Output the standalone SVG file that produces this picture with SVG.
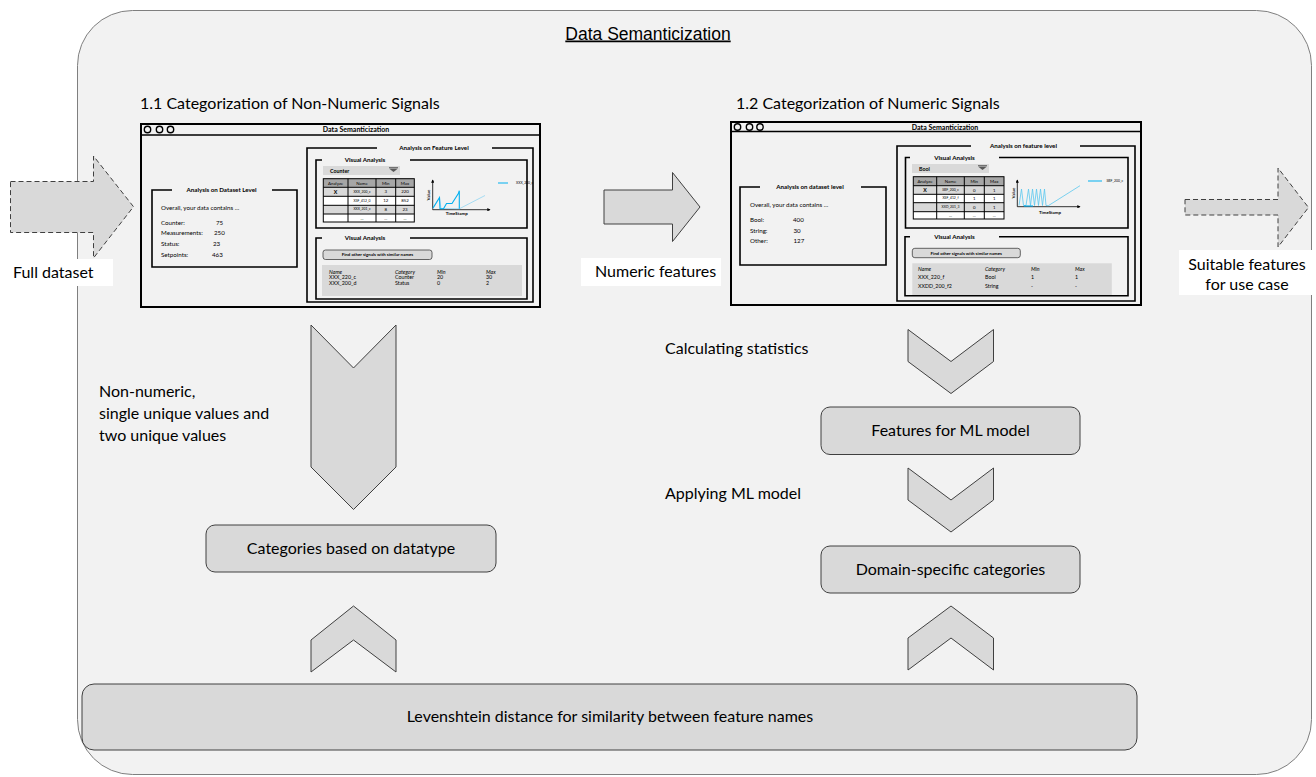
<svg xmlns="http://www.w3.org/2000/svg" width="1316" height="777" viewBox="0 0 1316 777">
  <style>
    .lbl { font-family: Lato, "Open Sans", sans-serif; font-size: 16px; fill: #000; }
    .ctr { text-anchor: middle; }
    .shape { fill: #d9d9d9; stroke: #404040; stroke-width: 1; }
    .win { fill: #f2f2f2; stroke: #000; stroke-width: 2; }
    .fs { fill: none; stroke: #000; stroke-width: 1.6; }
    .ui { font-family: Lato, "Open Sans", sans-serif; fill: #000; }
    .uib { font-family: Lato, "Open Sans", sans-serif; font-weight: bold; fill: #000; }
    .t7 { font-size: 7px; }
    .t6 { font-size: 6.2px; }
    .t5 { font-size: 5.3px; }
    .t4 { font-size: 4.4px; }
    .t3 { font-size: 3.4px; }
    .cell { stroke: #000; stroke-width: 1; }
    .hdr { fill: #a6a6a6; }
    .alt { fill: #d9d9d9; }
    .wht { fill: #ffffff; }
    .axis { stroke: #000; stroke-width: 0.8; fill: none; }
    .dash { fill: #d9d9d9; stroke: #404040; stroke-width: 1; stroke-dasharray: 5 3; }
  </style>
  <defs>
    <marker id="ax" viewBox="0 0 6 6" refX="5" refY="3" markerWidth="4" markerHeight="4" orient="auto">
      <path d="M0,0 L6,3 L0,6 z" fill="#000"/>
    </marker>
  </defs>

  <!-- outer container -->
  <g id="container">
    <rect x="77.5" y="10.5" width="1234" height="764" rx="55" ry="55" fill="#f2f2f2" stroke="#7f7f7f" stroke-width="1"/>
    <text x="648" y="39.5" text-anchor="middle" font-family="Liberation Sans, Arial, sans-serif" font-size="17.5" text-decoration="underline">Data Semanticization</text>
  </g>

  <!-- section headings -->
  <g id="heading-11"><text class="lbl" x="140" y="108.5">1.1 Categorization of Non-Numeric Signals</text></g>
  <g id="heading-12"><text class="lbl" x="736" y="108.5">1.2 Categorization of Numeric Signals</text></g>

  <!-- connectors: block arrows and chevrons -->
  <g id="connectors">
    <polygon class="dash" points="10.5,181.5 93.5,181.5 93.5,156 133.5,206.7 93.5,258 93.5,232.5 10.5,232.5"/>
    <polygon class="shape" points="604,190 672.5,190 672.5,172.5 700,207 672.5,241.5 672.5,224 604,224"/>
    <polygon class="dash" points="1185,199.5 1278,199.5 1278,168 1308.5,207.5 1278,247 1278,215 1185,215"/>
    <polygon class="shape" points="311,325 353.5,368 396,325 396,467 353.5,509.5 311,467"/>
    <polygon class="shape" points="908,329.5 951,361.5 993.5,329.5 993.5,361.5 951,393.5 908,361.5"/>
    <polygon class="shape" points="908,468 951,500 993.5,468 993.5,500 951,532 908,500"/>
    <polygon class="shape" points="353.5,606 396,640 396,672 353.5,640 311,672 311,640"/>
    <polygon class="shape" points="951,606 993.5,638 993.5,670 951,638 908,670 908,638"/>
  </g>

  <!-- arrow labels -->
  <g id="label-full-dataset">
    <rect x="10" y="259" width="103" height="27" fill="#fff"/>
    <text class="lbl" x="13" y="278" font-size="17">Full dataset</text>
  </g>
  <g id="label-numeric-features">
    <rect x="581" y="258" width="140" height="28" fill="#fff"/>
    <text class="lbl" x="595" y="277">Numeric features</text>
  </g>
  <g id="label-suitable">
    <rect x="1179" y="250" width="137" height="45" fill="#fff"/>
    <text class="lbl ctr" x="1247" y="270">Suitable features</text>
    <text class="lbl ctr" x="1247" y="290">for use case</text>
  </g>
  <g id="label-non-numeric">
    <text class="lbl" x="99" y="397">Non-numeric,</text>
    <text class="lbl" x="99" y="419">single unique values and</text>
    <text class="lbl" x="99" y="441">two unique values</text>
  </g>
  <g id="label-calc"><text class="lbl" x="665" y="354">Calculating statistics</text></g>
  <g id="label-apply"><text class="lbl" x="665" y="499">Applying ML model</text></g>

  <!-- process boxes -->
  <g id="node-datatype">
    <rect class="shape" x="206" y="525" width="290" height="47" rx="9"/>
    <text class="lbl ctr" x="351" y="554">Categories based on datatype</text>
  </g>
  <g id="node-ml-features">
    <rect class="shape" x="821" y="407" width="259" height="47.5" rx="9"/>
    <text class="lbl ctr" x="950.5" y="436">Features for ML model</text>
  </g>
  <g id="node-domain">
    <rect class="shape" x="821" y="546" width="259" height="47" rx="9"/>
    <text class="lbl ctr" x="950.5" y="575">Domain-specific categories</text>
  </g>
  <g id="node-levenshtein">
    <rect class="shape" x="82" y="684" width="1055" height="66" rx="12"/>
    <text class="lbl ctr" x="610" y="722">Levenshtein distance for similarity between feature names</text>
  </g>

  <!-- mockup window: non-numeric signals -->
  <g id="window-non-numeric">
    <rect class="win" x="141" y="124" width="399" height="183"/>
    <line x1="141" y1="135" x2="540" y2="135" stroke="#000" stroke-width="1.5"/>
    <circle cx="147.5" cy="129.5" r="3.2" fill="none" stroke="#000" stroke-width="1.4"/>
    <circle cx="159.5" cy="129.5" r="3.2" fill="none" stroke="#000" stroke-width="1.4"/>
    <circle cx="170.5" cy="129.5" r="3.2" fill="none" stroke="#000" stroke-width="1.4"/>
    <text class="uib t7 ctr" x="356" y="132.3">Data Semanticization</text>

    <!-- dataset level panel -->
    <path class="fs" d="M172,190 H152 V267 H297 V190 H272"/>
    <text class="uib t6 ctr" x="221.5" y="192.3">Analysis on Dataset Level</text>
    <text class="ui t6" x="161" y="209.5">Overall, your data contains ...</text>
    <text class="ui t6" x="161" y="224.5">Counter:</text><text class="ui t6" x="216" y="224.5">75</text>
    <text class="ui t6" x="161" y="235.3">Measurements:</text><text class="ui t6" x="214" y="235.3">250</text>
    <text class="ui t6" x="161" y="246.3">Status:</text><text class="ui t6" x="213" y="246.3">23</text>
    <text class="ui t6" x="161" y="257">Setpoints:</text><text class="ui t6" x="212" y="257">463</text>

    <!-- feature level panel -->
    <path class="fs" d="M377,148 H307 V302 H533 V148 H492"/>
    <text class="uib t6 ctr" x="434" y="150.3">Analysis on Feature Level</text>

    <path class="fs" d="M322,160 H316 V228 H527 V160 H410"/>
    <text class="uib t6 ctr" x="365" y="162.3">Visual Analysis</text>
    <rect x="323" y="166" width="77" height="9" fill="#d9d9d9"/>
    <text class="uib t5" x="330" y="172.6">Counter</text>
    <line x1="389" y1="167.5" x2="398" y2="167.5" stroke="#595959" stroke-width="0.8"/>
    <polygon points="389,168.5 398,168.5 393.5,172" fill="#595959"/>

    <rect class="hdr" x="323.3" y="178.7" width="91" height="8.6"/>
    <rect class="alt" x="323.3" y="187.3" width="91" height="9"/>
    <rect class="wht" x="323.3" y="196.3" width="91" height="9"/>
    <rect class="alt" x="323.3" y="205.3" width="91" height="8.7"/>
    <rect class="wht" x="323.3" y="214" width="91" height="8"/>
    <g class="cell">
      <rect x="323.3" y="178.7" width="91" height="43.3" fill="none"/>
      <line x1="348" y1="178.7" x2="348" y2="222"/>
      <line x1="376" y1="178.7" x2="376" y2="222"/>
      <line x1="395.7" y1="178.7" x2="395.7" y2="222"/>
      <line x1="323.3" y1="187.3" x2="414.3" y2="187.3"/>
      <line x1="323.3" y1="196.3" x2="414.3" y2="196.3"/>
      <line x1="323.3" y1="205.3" x2="414.3" y2="205.3"/>
      <line x1="323.3" y1="214" x2="414.3" y2="214"/>
    </g>
    <text class="ui t4 ctr" x="335.6" y="184.6">Analyze</text>
    <text class="ui t4 ctr" x="362" y="184.6">Name</text>
    <text class="ui t4 ctr" x="385.8" y="184.6">Min</text>
    <text class="ui t4 ctr" x="405" y="184.6">Max</text>
    <text class="uib t5 ctr" x="335.6" y="193.6">X</text>
    <text class="ui t3 ctr" x="362" y="192.6">XXX_200_c</text>
    <text class="ui t4 ctr" x="385.8" y="193.3">3</text>
    <text class="ui t4 ctr" x="405" y="193.3">220</text>
    <text class="ui t3 ctr" x="362" y="201.6">XSF_412_0</text>
    <text class="ui t4 ctr" x="385.8" y="202.3">12</text>
    <text class="ui t4 ctr" x="405" y="202.3">852</text>
    <text class="ui t3 ctr" x="362" y="210.3">XXX_201_c</text>
    <text class="ui t4 ctr" x="385.8" y="211">8</text>
    <text class="ui t4 ctr" x="405" y="211">23</text>
    <text class="ui t4 ctr" x="362" y="219.5">...</text>
    <text class="ui t4 ctr" x="385.8" y="219.5">...</text>
    <text class="ui t4 ctr" x="405" y="219.5">...</text>

    <!-- signal chart -->
    <path class="axis" d="M432.7,209.7 V180" marker-end="url(#ax)"/>
    <path class="axis" d="M432.7,209.7 H490" marker-end="url(#ax)"/>
    <text class="uib t4 ctr" transform="translate(430,195) rotate(-90)">Value</text>
    <text class="uib t4 ctr" x="456.7" y="214.8">TimeStamp</text>
    <path d="M433,208.5 L439.5,198 L441,208.5 L459.5,208.7 L485,195.5" fill="none" stroke="#9dd9f3" stroke-width="0.9"/>
    <path d="M433,208 L439.5,197.5 L440,208.7 L443.5,208.7 L446.5,203.5 L452,203.5 L458.5,193.2 L459.3,190.7 L459.3,208.7" fill="none" stroke="#00b0f0" stroke-width="1.1"/>
    <line x1="498" y1="183" x2="508" y2="183" stroke="#00b0f0" stroke-width="1"/>
    <text class="ui t3" x="516" y="184.2">XXX_200_c</text>

    <path class="fs" d="M322,238 H316 V299 H527 V238 H410"/>
    <text class="uib t6 ctr" x="365" y="240.3">Visual Analysis</text>
    <rect x="323" y="250" width="109" height="9.5" rx="2.5" fill="#d9d9d9" stroke="#404040" stroke-width="0.8"/>
    <text class="uib t4 ctr" x="377.5" y="256.4">Find other signals with similar names</text>
    <rect x="322" y="265" width="200" height="31" fill="#d9d9d9"/>
    <g class="ui t5">
      <text x="329" y="273.5" font-style="italic">Name</text>
      <text x="395" y="273.5" font-style="italic">Category</text>
      <text x="437" y="273.5" font-style="italic">Min</text>
      <text x="486" y="273.5" font-style="italic">Max</text>
      <text x="329" y="279.3">XXX_220_c</text>
      <text x="395" y="279.3">Counter</text>
      <text x="437" y="279.3">20</text>
      <text x="486" y="279.3">30</text>
      <text x="329" y="285">XXX_200_d</text>
      <text x="395" y="285">Status</text>
      <text x="437" y="285">0</text>
      <text x="486" y="285">2</text>
    </g>
  </g>

  <!-- mockup window: numeric signals -->
  <g id="window-numeric">
    <rect class="win" x="731" y="122" width="410" height="183"/>
    <line x1="731" y1="131.5" x2="1141" y2="131.5" stroke="#000" stroke-width="1.5"/>
    <circle cx="737.5" cy="127" r="3.2" fill="none" stroke="#000" stroke-width="1.4"/>
    <circle cx="749.5" cy="127" r="3.2" fill="none" stroke="#000" stroke-width="1.4"/>
    <circle cx="760" cy="127" r="3.2" fill="none" stroke="#000" stroke-width="1.4"/>
    <text class="uib t7 ctr" x="945" y="129.6">Data Semanticization</text>

    <!-- dataset level panel -->
    <path class="fs" d="M760,187 H740 V265 H886 V187 H861"/>
    <text class="uib t6 ctr" x="810" y="189.3">Analysis on dataset level</text>
    <text class="ui t6" x="750" y="207.2">Overall, your data contains ...</text>
    <text class="ui t6" x="750" y="222.2">Bool:</text><text class="ui t6" x="793" y="222.2">400</text>
    <text class="ui t6" x="750" y="233.2">String:</text><text class="ui t6" x="793.5" y="233.2">30</text>
    <text class="ui t6" x="750" y="243.3">Other:</text><text class="ui t6" x="793.5" y="243.3">127</text>

    <!-- feature level panel -->
    <path class="fs" d="M971,146 H897 V301 H1135 V146 H1080"/>
    <text class="uib t6 ctr" x="1023.5" y="148.3">Analysis on feature level</text>

    <path class="fs" d="M910,157.5 H905.5 V228 H1128 V157.5 H999"/>
    <text class="uib t6 ctr" x="954.5" y="159.8">Visual Analysis</text>
    <rect x="912" y="164" width="77" height="9" fill="#d9d9d9"/>
    <text class="uib t5" x="919" y="170.6">Bool</text>
    <line x1="978" y1="165.5" x2="987" y2="165.5" stroke="#595959" stroke-width="0.8"/>
    <polygon points="978,166.5 987,166.5 982.5,170" fill="#595959"/>

    <rect class="hdr" x="913.3" y="176.7" width="90.7" height="9"/>
    <rect class="alt" x="913.3" y="185.7" width="90.7" height="8.6"/>
    <rect class="wht" x="913.3" y="194.3" width="90.7" height="8.4"/>
    <rect class="alt" x="913.3" y="202.7" width="90.7" height="9"/>
    <rect class="wht" x="913.3" y="211.7" width="90.7" height="7.3"/>
    <g class="cell">
      <rect x="913.3" y="176.7" width="90.7" height="42.3" fill="none"/>
      <line x1="936.7" y1="176.7" x2="936.7" y2="219"/>
      <line x1="964.3" y1="176.7" x2="964.3" y2="219"/>
      <line x1="984.3" y1="176.7" x2="984.3" y2="219"/>
      <line x1="913.3" y1="185.7" x2="1004" y2="185.7"/>
      <line x1="913.3" y1="194.3" x2="1004" y2="194.3"/>
      <line x1="913.3" y1="202.7" x2="1004" y2="202.7"/>
      <line x1="913.3" y1="211.7" x2="1004" y2="211.7"/>
    </g>
    <text class="ui t4 ctr" x="925" y="182.8">Analyze</text>
    <text class="ui t4 ctr" x="950.5" y="182.8">Name</text>
    <text class="ui t4 ctr" x="974.3" y="182.8">Min</text>
    <text class="ui t4 ctr" x="994.2" y="182.8">Max</text>
    <text class="uib t5 ctr" x="925" y="191.8">X</text>
    <text class="ui t3 ctr" x="950.5" y="190.9">SBF_200_c</text>
    <text class="ui t4 ctr" x="974.3" y="191.6">0</text>
    <text class="ui t4 ctr" x="994.2" y="191.6">1</text>
    <text class="ui t3 ctr" x="950.5" y="199.4">XSF_412_f</text>
    <text class="ui t4 ctr" x="974.3" y="200.1">1</text>
    <text class="ui t4 ctr" x="994.2" y="200.1">1</text>
    <text class="ui t3 ctr" x="950.5" y="208">XXD_201_3</text>
    <text class="ui t4 ctr" x="974.3" y="208.7">0</text>
    <text class="ui t4 ctr" x="994.2" y="208.7">1</text>
    <text class="ui t4 ctr" x="950.5" y="216.8">...</text>
    <text class="ui t4 ctr" x="974.3" y="216.8">...</text>
    <text class="ui t4 ctr" x="994.2" y="216.8">...</text>

    <!-- signal chart -->
    <path class="axis" d="M1017.3,206.7 V180" marker-end="url(#ax)"/>
    <path class="axis" d="M1017.3,206.7 H1080" marker-end="url(#ax)"/>
    <text class="uib t4 ctr" transform="translate(1014.5,193) rotate(-90)">Value</text>
    <text class="uib t4 ctr" x="1050" y="213.6">TimeStamp</text>
    <path d="M1019,205.5 L1021.5,189 L1023.5,205.5 L1026,205.5 L1028.5,189 L1030.5,205.5 L1032.5,189 L1034.5,205.5 L1036.5,189 L1038.5,205.5 L1040.5,189 L1042.5,205.5 L1044.5,189 L1046,205.5 L1048.3,205.7 L1080,185.7" fill="none" stroke="#5bc8ef" stroke-width="0.8"/>
    <line x1="1024" y1="206" x2="1033" y2="206" stroke="#00b0f0" stroke-width="1.1"/>
    <line x1="1088" y1="181" x2="1102" y2="181" stroke="#00b0f0" stroke-width="1"/>
    <text class="ui t3" x="1106.5" y="182.2">SBF_200_c</text>

    <path class="fs" d="M910,236.7 H905 V295.7 H1128 V236.7 H999"/>
    <text class="uib t6 ctr" x="954.5" y="239">Visual Analysis</text>
    <rect x="912.3" y="248.3" width="108" height="9.4" rx="2.5" fill="#d9d9d9" stroke="#404040" stroke-width="0.8"/>
    <text class="uib t4 ctr" x="966.3" y="254.6">Find other signals with similar names</text>
    <rect x="912.3" y="263.3" width="199.5" height="31.7" fill="#d9d9d9"/>
    <g class="ui t5">
      <text x="918" y="271.2" font-style="italic">Name</text>
      <text x="985" y="271.2" font-style="italic">Category</text>
      <text x="1031" y="271.2" font-style="italic">Min</text>
      <text x="1075" y="271.2" font-style="italic">Max</text>
      <text x="918" y="279.2">XXX_220_f</text>
      <text x="985" y="279.2">Bool</text>
      <text x="1031" y="279.2">1</text>
      <text x="1075" y="279.2">1</text>
      <text x="918" y="287.9">XXDD_200_f2</text>
      <text x="985" y="287.9">String</text>
      <text x="1031" y="287.9">-</text>
      <text x="1075" y="287.9">-</text>
    </g>
  </g>
</svg>
